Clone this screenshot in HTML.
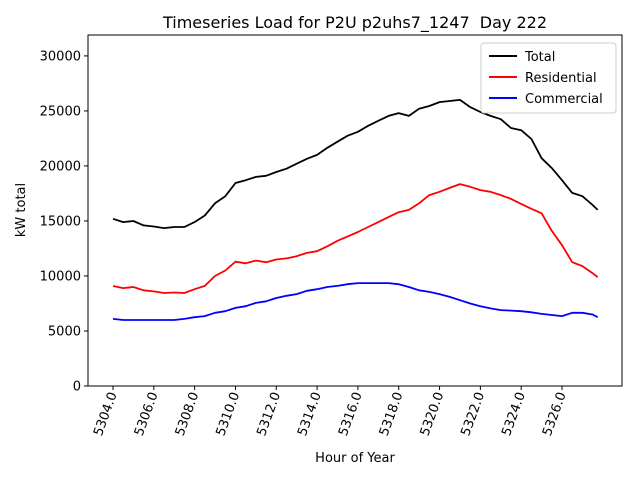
<!DOCTYPE html>
<html><head><meta charset="utf-8"><style>
body{margin:0;background:#fff;}
svg text{font-family:"DejaVu Sans","Liberation Sans",sans-serif;fill:#000;}
</style></head><body>
<svg id="chart" width="640" height="480">
<rect x="0" y="0" width="640" height="480" fill="#fff"/>
<text x="355" y="28" font-size="16" text-anchor="middle" style="white-space:pre">Timeseries Load for P2U p2uhs7_1247  Day 222</text>
<g id="yticks"></g><g id="xticks"></g><g id="series"></g>
<rect x="88" y="35" width="534" height="351" fill="none" stroke="#000" stroke-width="1"/>
<text x="355" y="462" font-size="13" text-anchor="middle">Hour of Year</text>
<text transform="translate(25,210) rotate(-90)" font-size="13" text-anchor="middle">kW total</text>
<g>
<rect x="481" y="43" width="135" height="70" rx="3" fill="#fff" stroke="#ccc"/>
<g><line x1="489" y1="56" x2="517" y2="56" stroke="#000" stroke-width="2"/><text x="525" y="61" font-size="13">Total</text></g>
<g><line x1="489" y1="77" x2="517" y2="77" stroke="#f00" stroke-width="2"/><text x="525" y="82" font-size="13">Residential</text></g>
<g><line x1="489" y1="98" x2="517" y2="98" stroke="#00f" stroke-width="2"/><text x="525" y="103" font-size="13">Commercial</text></g>
</g>
</svg>
<script>
const hours = [5304,5304.5,5305,5305.5,5306,5306.5,5307,5307.5,5308,5308.5,5309,5309.5,5310,5310.5,5311,5311.5,5312,5312.5,5313,5313.5,5314,5314.5,5315,5315.5,5316,5316.5,5317,5317.5,5318,5318.5,5319,5319.5,5320,5320.5,5321,5321.5,5322,5322.5,5323,5323.5,5324,5324.5,5325,5325.5,5326,5326.5,5327,5327.5,5327.75];
const totalLoad = [15200,14900,15000,14600,14500,14350,14450,14450,14900,15500,16600,17250,18450,18700,19000,19100,19450,19750,20200,20650,21000,21650,22200,22750,23100,23650,24100,24550,24800,24550,25200,25450,25800,25900,26000,25350,24900,24550,24250,23450,23250,22450,20700,19800,18700,17550,17250,16450,16000];
const residentialLoad = [9090,8900,9000,8700,8600,8450,8500,8450,8800,9100,10000,10500,11300,11150,11400,11250,11500,11600,11800,12100,12250,12700,13200,13600,14000,14450,14900,15350,15800,16000,16600,17350,17650,18000,18350,18100,17800,17650,17350,17000,16550,16100,15700,14100,12800,11250,10900,10250,9900];
const commercialLoad = [6100,6000,6000,6000,6000,6000,6000,6100,6250,6350,6650,6800,7100,7250,7550,7700,8000,8200,8350,8650,8800,9000,9100,9250,9350,9350,9350,9350,9250,9000,8700,8550,8350,8100,7800,7500,7250,7050,6900,6850,6800,6700,6550,6450,6350,6650,6650,6500,6250];
const yTicks = [0,5000,10000,15000,20000,25000,30000];
const xTicks = [5304,5306,5308,5310,5312,5314,5316,5318,5320,5322,5324,5326];

const X0=88,X1=622,Y0=386,Y1=35, XMIN=5302.775, XMAX=5328.94, YMIN=0, YMAX=31900;
const sx=v=>X0+(v-XMIN)/(XMAX-XMIN)*(X1-X0);
const sy=v=>Y0-(v-YMIN)/(YMAX-YMIN)*(Y0-Y1);
const NS="http://www.w3.org/2000/svg";
function mk(tag,attrs,parent){const e=document.createElementNS(NS,tag);for(const k in attrs)e.setAttribute(k,attrs[k]);parent.appendChild(e);return e;}
const yg=document.getElementById('yticks');
yTicks.forEach(t=>{const y=sy(t);
 const l=mk('line',{x1:X0-4,x2:X0,y1:y,y2:y,stroke:'#000'},yg);
 
 
 const tx=mk('text',{x:X0-7,y:y+4.5,'font-size':13,'text-anchor':'end'},yg);tx.textContent=t;
 
 
});
const xg=document.getElementById('xticks');
xTicks.forEach(t=>{const x=sx(t);
 const l=mk('line',{x1:x,x2:x,y1:Y0,y2:Y0+4,stroke:'#000'},xg);
 
 
 const tx=mk('text',{transform:`translate(${x+4},${Y0+8}) rotate(-70)`,'font-size':13,'text-anchor':'end'},xg);tx.textContent=t.toFixed(1);
 
 
});
const sg=document.getElementById('series');
[[totalLoad,'#000','total-line'],[residentialLoad,'#f00','residential-line'],[commercialLoad,'#00f','commercial-line']].forEach(([d,c,n])=>{
 const pts=d.map((v,i)=>sx(hours[i]).toFixed(1)+','+sy(v).toFixed(1)).join(' ');
 const p=mk('polyline',{points:pts,fill:'none',stroke:c,'stroke-width':1.8,'stroke-linejoin':'round'},sg);
 
 
});
</script>
</body></html>
